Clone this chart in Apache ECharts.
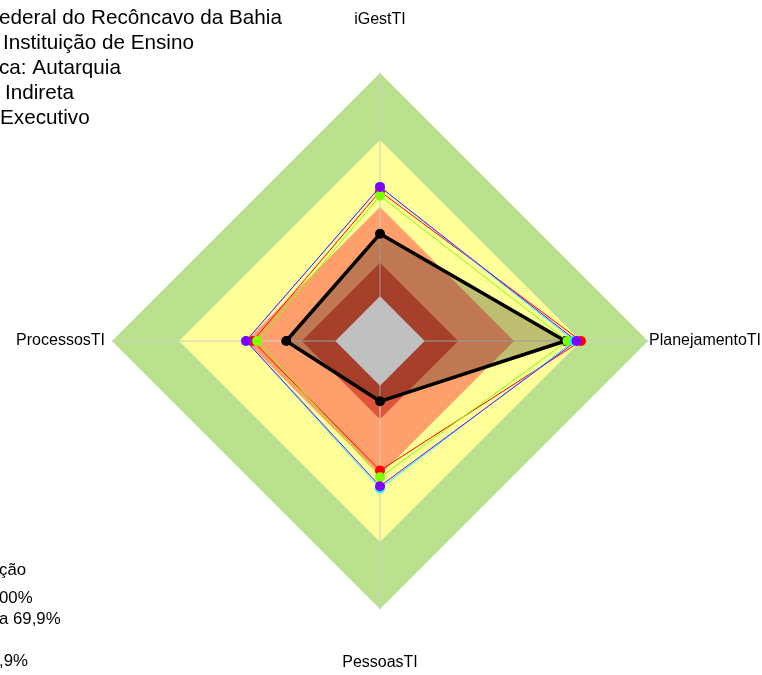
<!DOCTYPE html>
<html>
<head>
<meta charset="utf-8">
<script src="https://cdn.jsdelivr.net/npm/echarts@6/dist/echarts.min.js"></script>
<style>
html, body { margin: 0; padding: 0; background: #fff; }
#main { width: 762px; height: 675px; }
</style>
</head>
<body>
<div id="main"></div>
<script>
// eixos na ordem do radar (topo, esquerda, baixo, direita)
const indicators = ['iGestTI', 'ProcessosTI', 'PessoasTI', 'PlanejamentoTI'];

// faixas de classificação (%)
const bandLimits = [100, 70, 40, 15, 0];
const bandColors = ['#bae18e', '#ffff99', '#ffa06c', '#dd5538', '#c0c0c0'];

// valores (%)
const instituicao = [28, 22, 7, 63];
const serieVermelha = [47, 37, 38, 70];
const serieVerde = [45, 35, 41, 64];
const serieCiano = [49, 40, 46, 67];
const serieRoxa = [49, 40, 45, 68];

const textoTopo = [
    'ederal do Recôncavo da Bahia',
    'Instituição de Ensino',
    'ca: Autarquia',
    'Indireta',
    'Executivo'
];
const textoLegenda = ['ção', '00%', 'a 69,9%', '', ',9%'];

const chart = echarts.init(document.getElementById('main'));

const radarIndicator = indicators.map(n => ({ name: n, min: -20, max: 100 }));
const fontFamily = '"Liberation Sans", Arial, sans-serif';

function band(value, color, z) {
    return {
        type: 'radar',
        radarIndex: 0,
        silent: true,
        z: z,
        symbol: 'none',
        lineStyle: { width: 0 },
        areaStyle: { color: color, opacity: 1 },
        data: [{ value: indicators.map(() => value) }]
    };
}

function comparacao(values, color) {
    return {
        type: 'radar',
        radarIndex: 0,
        z: 3,
        symbol: 'circle',
        symbolSize: 10,
        itemStyle: { color: color },
        lineStyle: { color: color, width: 1 },
        data: [{ value: values }]
    };
}

const series = [];
for (let i = 0; i < 4; i++) {
    series.push(band(bandLimits[i], bandColors[i], 1));
}
series.push({
    type: 'radar',
    radarIndex: 0,
    z: 2,
    symbol: 'circle',
    symbolSize: 10,
    itemStyle: { color: '#000' },
    lineStyle: { color: '#000', width: 3.5 },
    areaStyle: { color: 'rgba(0,0,0,0.25)', opacity: 1 },
    data: [{ value: instituicao }]
});
series.push(band(bandLimits[4], bandColors[4], 2));
series.push(comparacao(serieVermelha, '#ff0000'));
series.push(comparacao(serieVerde, '#80ff00'));
series.push(comparacao(serieCiano, '#00ffff'));
series.push(comparacao(serieRoxa, '#8000ff'));

const graphic = [];
textoTopo.forEach((t, i) => {
    graphic.push({
        type: 'text',
        left: [-1, 3, -1, 5, 0][i],
        top: 8 + i * 25,
        style: { text: t, font: '20.7px ' + fontFamily, fill: '#000' }
    });
});
textoLegenda.forEach((t, i) => {
    graphic.push({
        type: 'text',
        left: -1,
        top: i == 0 ? 562 : 569 + i * 21,
        style: { text: t, font: '16.8px ' + fontFamily, fill: '#000' }
    });
});

const namePad = {
    iGestTI: [0, 0, 44, 0],
    ProcessosTI: [0, 6, 0, 0],
    PessoasTI: [45, 0, 0, 0],
    PlanejamentoTI: [0, 0, 0, 0]
};

chart.setOption({
    animation: false,
    backgroundColor: '#fff',
    radar: [{
        center: [380, 341],
        radius: 268,
        startAngle: 90,
        shape: 'polygon',
        indicator: radarIndicator,
        axisName: { show: false },
        axisLine: { show: false },
        splitLine: { show: false },
        splitArea: { show: false }
    }, {
        z: 1.5,
        center: [380, 341],
        radius: 268,
        startAngle: 90,
        shape: 'polygon',
        indicator: radarIndicator,
        nameGap: 1,
        axisName: {
            color: '#000',
            fontSize: 16,
            fontFamily: fontFamily,
            formatter: (name) => '{' + name + '|' + name + '}',
            rich: Object.fromEntries(indicators.map(n => [n, {
                color: '#000', fontSize: 16, fontFamily: fontFamily, padding: namePad[n]
            }]))
        },
        axisLine: { show: true, lineStyle: { color: 'rgba(205,205,205,0.7)', width: 1.5 } },
        splitLine: { show: false },
        splitArea: { show: false }
    }],
    graphic: graphic,
    series: series
});
</script>
</body>
</html>
